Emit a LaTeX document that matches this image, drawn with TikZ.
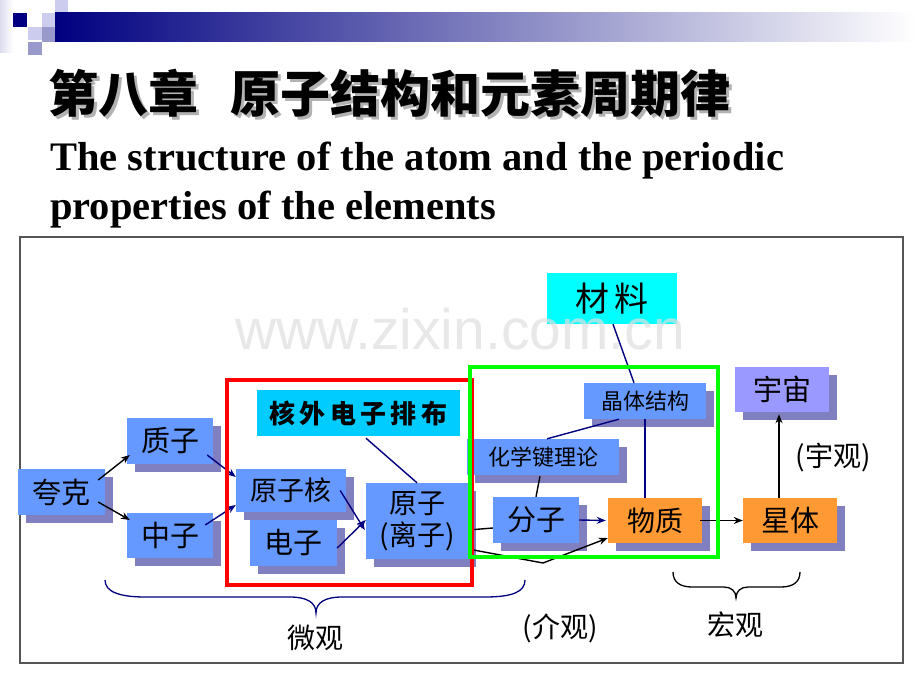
\documentclass[tikz,border=0pt]{standalone}
\usepackage{fontspec}
\setmainfont{Liberation Serif}
\newfontfamily\cjk{Noto Sans CJK SC}
\newfontfamily\wmfont{Liberation Sans}
\usetikzlibrary{arrows.meta,shadows}
\definecolor{boxblue}{HTML}{6699FF}
\definecolor{shc}{HTML}{8080C0}
\definecolor{orng}{HTML}{FF9933}
\definecolor{lav}{HTML}{9999FF}
\definecolor{cyanA}{HTML}{00FFFF}
\definecolor{cyanB}{HTML}{00CCFF}
\definecolor{navyc}{HTML}{000080}
\definecolor{sqa}{HTML}{CCCCEE}
\definecolor{sqb}{HTML}{9999CC}
\definecolor{sqc}{HTML}{DCDCEE}
\definecolor{greenR}{HTML}{00FF00}
\definecolor{frameg}{HTML}{555555}
\tikzset{
  cf/.style={font=\cjk\fontsize{#1}{#1}\selectfont},
  box/.style={fill=boxblue, inner sep=0pt, align=center,
    general shadow={fill=shc, shadow xshift=8pt, shadow yshift=-8pt}},
  flatbox/.style={inner sep=0pt, align=center},
  ln/.style={line width=1.4pt},
  arr/.style={line width=1.4pt, -{Stealth[length=9pt,width=7pt]}},
  lbl/.style={inner sep=0pt},
}
\begin{document}
\begin{tikzpicture}[x=1pt,y=-1pt]
\useasboundingbox (0,0) rectangle (920,690);
\fill[white] (0,0) rectangle (920,690);
% top decoration
\fill[left color=sqc, right color=white] (0,0) rectangle (13,53);
\fill[sqa] (55,0) rectangle (68,13);
\fill[navyc] (13,13) rectangle (27,27);
\fill[sqa] (42,13) rectangle (55,27);
\fill[sqb] (55,13) rectangle (68,27);
\fill[sqa] (28,27) rectangle (42,40);
\fill[sqb] (42,27) rectangle (55,42);
\fill[sqb] (28,42) rectangle (42,55);
\shade[left color=navyc, right color=white] (55,13) rectangle (915,42);
% titles
\node[lbl, anchor=west, text=gray!60, font=\cjk\bfseries\fontsize{50}{50}\selectfont] at (51,96) {第八章};
\node[lbl, anchor=west, text=gray!60, font=\cjk\bfseries\fontsize{50}{50}\selectfont] at (233,96) {原子结构和元素周期律};
\node[lbl, anchor=west, font=\cjk\bfseries\fontsize{50}{50}\selectfont] (t1) at (48,93) {第八章};
\node[lbl, anchor=west, font=\cjk\bfseries\fontsize{50}{50}\selectfont] (t2) at (230,93) {原子结构和元素周期律};
\node[lbl, anchor=base west, font=\bfseries\fontsize{40.5}{40.5}\selectfont] (e1) at (50,170) {The structure of the atom and the periodic};
\node[lbl, anchor=base west, font=\bfseries\fontsize{40.5}{40.5}\selectfont] (e2) at (50,219) {properties of the elements};
% frame
\draw[frameg, line width=1.5pt] (20,237) rectangle (903,663);
% boxes
\node[box, cf=29, minimum width=87pt, minimum height=46pt] (kuake) at (61.5,492) {夸克};
\node[box, cf=29, minimum width=86pt, minimum height=46pt] (zhizi) at (170,441) {质子};
\node[box, cf=29, minimum width=86pt, minimum height=45pt] (zhongzi) at (170,535.5) {中子};
\node[box, cf=27, minimum width=110pt, minimum height=43pt] (yzh) at (291,490.5) {原子核};
\node[box, cf=29, minimum width=87pt, minimum height=46pt] (dianzi) at (293.5,543) {电子};
\node[box, cf=28, minimum width=102pt, minimum height=76pt] (yuanzi) at (417,521) {原子\\[4pt](离子)};
\node[flatbox, fill=cyanB, font=\cjk\bfseries\fontsize{26}{26}\selectfont, minimum width=203pt, minimum height=46pt] (hwdz) at (358.5,413) {核\,外\,电\,子\,排\,布};
\node[flatbox, fill=cyanA, cf=34, minimum width=130pt, minimum height=51pt] (cailiao) at (612,298.5) {材\,料};
\node[box, cf=22, minimum width=122pt, minimum height=36pt] (jtjg) at (645,401) {晶体结构};
\node[box, cf=22, minimum width=152pt, minimum height=36pt] (hxjll) at (543,457) {化学键理论};
\node[box, cf=29, minimum width=86pt, minimum height=46pt] (fenzi) at (536,520) {分子};
\node[box, fill=orng, cf=28, minimum width=94pt, minimum height=45pt] (wuzhi) at (655,520.5) {物质};
\node[box, fill=orng, cf=29, minimum width=94pt, minimum height=45pt] (xingti) at (790,520.5) {星体};
\node[box, fill=lav, cf=29, minimum width=94pt, minimum height=45pt] (yuzhou) at (782,389.5) {宇宙};
% connectors
\draw[arr, black] ([xshift=-7pt,yshift=12pt]kuake.east) -- ([xshift=3pt,yshift=-14pt]zhizi.west);
\draw[arr, black] ([xshift=-7pt,yshift=-10pt]kuake.east) -- ([xshift=3pt,yshift=15.5pt]zhongzi.west);
\draw[arr, navyc] ([xshift=-6pt,yshift=-14pt]zhizi.east) -- ([yshift=13.5pt]yzh.west);
\draw[arr, navyc] ([xshift=-8pt,yshift=10.5pt]zhongzi.east) -- ([yshift=-14.5pt]yzh.west);
\draw[arr, navyc] ([xshift=-6pt]yzh.east) -- ([xshift=-1pt,yshift=-9pt]yuanzi.west);
\draw[arr, navyc] ([yshift=-5pt]dianzi.east) -- ([yshift=1pt]yuanzi.west);
\draw[ln, navyc] ([xshift=7.5pt,yshift=-2pt]hwdz.south) -- (yuanzi.north);
\draw[ln, black] ([yshift=-9pt]yuanzi.east) -- ([yshift=-8pt]fenzi.west);
\coordinate (bend) at (543,563);
\draw[arr, black] ([yshift=-28pt]yuanzi.east) -- (bend) -- ([yshift=-17.5pt]wuzhi.west);
\draw[arr, navyc] (fenzi.east) -- ([xshift=-2pt]wuzhi.west);
\draw[arr, black] ([xshift=-2pt]wuzhi.east) -- (xingti.west);
\draw[arr, black] ([xshift=-11pt]xingti.north) -- ([xshift=-3pt,yshift=-2pt]yuzhou.south);
\draw[ln, black] ([xshift=-3pt,yshift=-1pt]hxjll.south) -- (fenzi.north);
\draw[ln, navyc] ([xshift=-26pt]jtjg.south) -- ([xshift=4pt]hxjll.north);
\draw[ln, navyc] (jtjg.south) -- ([xshift=-10pt]wuzhi.north);
\draw[ln, navyc] ([xshift=1pt]cailiao.south) -- ([xshift=-11pt]jtjg.north);
% regions
\draw[red, line width=3.5pt] (227,380) rectangle (472,585);
\draw[greenR, line width=3.5pt] (470,367) rectangle (718,557);
% braces
\draw[navyc, line width=1.3pt] (105,580) .. controls (105,592) and (120,597) .. (145,597) -- (290,597) .. controls (306,597) and (316,602) .. (316,613) .. controls (316,602) and (326,597) .. (342,597) -- (485,597) .. controls (512,597) and (525,592) .. (525,580);
\draw[black, line width=1.3pt] (673,572) .. controls (673,582) and (680,587) .. (692,587) -- (724,587) .. controls (731,587) and (736,591) .. (736,598) .. controls (736,591) and (741,587) .. (748,587) -- (781,587) .. controls (793,587) and (800,582) .. (800,572);
% labels
\node[lbl, cf=28] (lwei) at (315,638) {微观};
\node[lbl, cf=28] (ljie) at (560,628) {(介观)};
\node[lbl, cf=28] (lhong) at (735,625) {宏观};
\node[lbl, cf=28] (lyu) at (833,458) {(宇观)};
% watermark
\node[lbl, anchor=base, text=gray!25, opacity=0.7, font=\wmfont\fontsize{57}{57}\selectfont] (wm) at (460,349) {www.zixin.com.cn};
\end{tikzpicture}
\end{document}
